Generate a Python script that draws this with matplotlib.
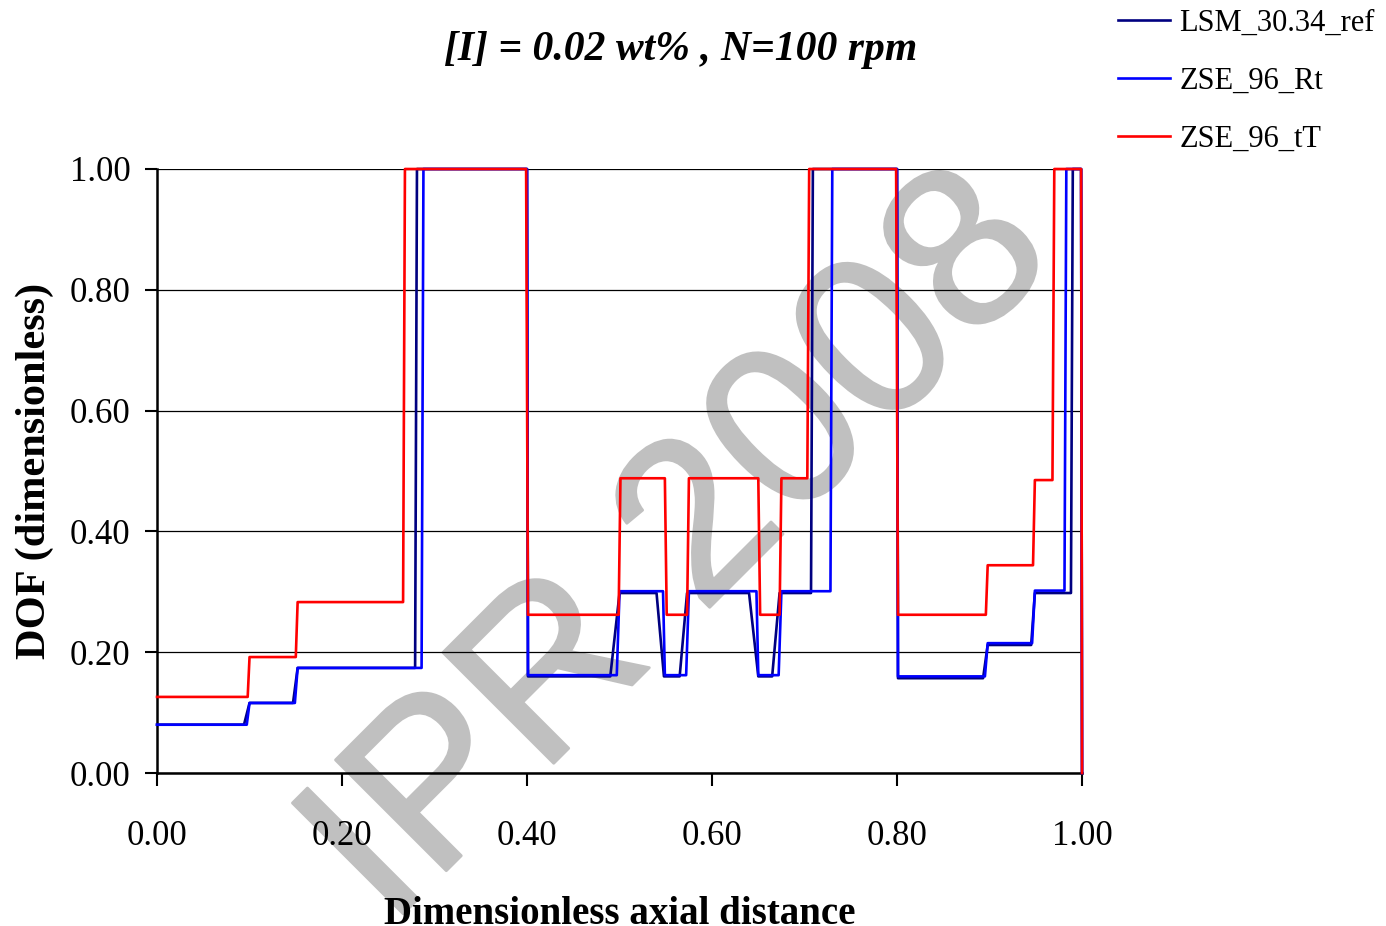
import matplotlib
matplotlib.use("Agg")
from matplotlib import pyplot as plt
from matplotlib import patheffects as pe

# data (step curves, vertex by vertex)
x_ref = [0.0, 0.094, 0.100, 0.147, 0.152, 0.279, 0.281, 0.400, 0.401, 0.490, 0.500,
         0.540, 0.548, 0.565, 0.573, 0.640, 0.650, 0.665, 0.673, 0.707, 0.709,
         0.800, 0.801, 0.893, 0.898, 0.945, 0.949, 0.988, 0.990, 0.999, 1.0]
y_ref = [0.080, 0.080, 0.116, 0.116, 0.174, 0.174, 1.0, 1.0, 0.160, 0.160, 0.298,
         0.298, 0.160, 0.160, 0.298, 0.298, 0.160, 0.160, 0.298, 0.298, 1.0,
         1.0, 0.157, 0.157, 0.212, 0.212, 0.298, 0.298, 1.0, 1.0, 0.0]

x_rt = [0.0, 0.097, 0.100, 0.149, 0.152, 0.286, 0.288, 0.400, 0.401, 0.497, 0.500,
        0.547, 0.549, 0.572, 0.575, 0.648, 0.650, 0.672, 0.675, 0.728, 0.730,
        0.800, 0.801, 0.895, 0.898, 0.946, 0.949, 0.981, 0.983, 0.999, 1.0]
y_rt = [0.080, 0.080, 0.116, 0.116, 0.174, 0.174, 1.0, 1.0, 0.162, 0.162, 0.301,
        0.301, 0.162, 0.162, 0.301, 0.301, 0.162, 0.162, 0.301, 0.301, 1.0,
        1.0, 0.160, 0.160, 0.215, 0.215, 0.302, 0.302, 1.0, 1.0, 0.0]

x_tt = [0.0, 0.098, 0.100, 0.150, 0.152, 0.266, 0.268, 0.399, 0.401, 0.499, 0.501,
        0.549, 0.551, 0.573, 0.575, 0.650, 0.652, 0.673, 0.675, 0.703, 0.705,
        0.799, 0.801, 0.896, 0.898, 0.947, 0.949, 0.968, 0.970, 0.999, 1.0]
y_tt = [0.126, 0.126, 0.192, 0.192, 0.283, 0.283, 1.0, 1.0, 0.262, 0.262, 0.488,
        0.488, 0.262, 0.262, 0.488, 0.488, 0.262, 0.262, 0.488, 0.488, 1.0,
        1.0, 0.262, 0.262, 0.344, 0.344, 0.485, 0.485, 1.0, 1.0, 0.0]

labels = ["LSM_30.34_ref", "ZSE_96_Rt", "ZSE_96_tT"]
ticks = [0.0, 0.2, 0.4, 0.6, 0.8, 1.0]

serif = "Liberation Serif"

fig = plt.figure(figsize=(13.86, 9.26), dpi=100)
ax = fig.add_axes([0.1133, 0.1652, 0.6674, 0.6523])
ax.patch.set_alpha(0)

#watermark sits under everything
fig.text(0.492, 0.405, "IPR 2008", family="Liberation Sans", fontsize=164,
         color="#c0c0c0", rotation=45, ha="center", va="center", zorder=-5,
         path_effects=[pe.withStroke(linewidth=2, foreground="#c0c0c0")])

l1, = ax.plot(x_ref, y_ref, color="#000080", lw=1.9, zorder=3, clip_on=False)
l2, = ax.plot(x_rt, y_rt, color="#0000ff", lw=1.9, zorder=4, clip_on=False)
l3, = ax.plot(x_tt, y_tt, color="#ff0000", lw=1.9, zorder=5, clip_on=False)

ax.set_xlim(0, 1)
ax.set_ylim(0, 1)
ax.set_xticks(ticks)
ax.set_yticks(ticks)
ax.set_xticklabels([f"{t:.2f}" for t in ticks])
ax.set_yticklabels([f"{t:.2f}" for t in ticks])
ax.tick_params(direction="out", length=9, width=1.5, labelsize=25, colors="black")
ax.tick_params(axis="x", pad=25)
ax.tick_params(axis="y", pad=10)
for lab in ax.get_xticklabels() + ax.get_yticklabels():
    lab.set_family(serif)

ax.grid(axis="y", color="black", lw=0.9)
ax.set_axisbelow(True)
ax.spines["top"].set_visible(False)
ax.spines["right"].set_visible(False)
ax.spines["left"].set_linewidth(1.8)
ax.spines["bottom"].set_linewidth(1.8)

ax.set_xlabel("Dimensionless axial distance", family=serif, fontsize=28,
              fontweight="bold", labelpad=31)
ax.set_ylabel("DOF (dimensionless)", family=serif, fontsize=30.5,
              fontweight="bold", labelpad=11)

fig.text(0.491, 0.946, "[I] = 0.02 wt% , N=100 rpm", family=serif, fontsize=30,
         fontweight="bold", style="italic", ha="center", va="center")

fig.legend([l1, l2, l3], labels, loc="upper left", bbox_to_anchor=(0.787, 1.02),
           frameon=False, prop={"family": serif, "size": 22},
           handlelength=1.7, handletextpad=0.3, labelspacing=0.95)

fig.savefig("out.png", dpi=100)
